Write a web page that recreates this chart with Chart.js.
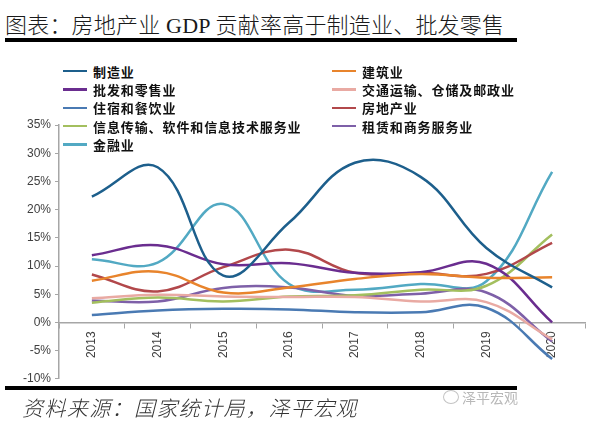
<!DOCTYPE html>
<html><head><meta charset="utf-8">
<script src="https://cdn.jsdelivr.net/npm/chart.js@4/dist/chart.umd.min.js"></script>
<style>
html,body{margin:0;padding:0;background:#fff;}
#wrap{position:relative;width:608px;height:424px;overflow:hidden;background:#fff;}
#title{position:absolute;left:5px;top:7px;font-family:"Liberation Serif","Noto Sans CJK SC",serif;font-size:22px;color:#1a1a1a;white-space:nowrap;font-weight:300;letter-spacing:0.2px;}
.rule{position:absolute;left:5px;width:512px;height:4px;background:#000;}
#foot{position:absolute;left:22px;top:392px;font-family:"Noto Sans CJK SC",sans-serif;font-style:italic;font-size:21px;letter-spacing:1.4px;color:#333;white-space:nowrap;font-weight:300;}
#wm{position:absolute;left:462px;top:387px;font-family:"Noto Sans CJK SC",sans-serif;font-size:14px;color:#b8b8b8;white-space:nowrap;}
#wmi{position:absolute;left:443px;top:390px;width:14px;height:12px;border:1.5px solid #c4c4c4;border-radius:50%;}
canvas{position:absolute;left:0;top:100px;}
.lg{position:absolute;height:18px;display:flex;align-items:center;font-family:"Noto Sans CJK SC",sans-serif;font-weight:bold;font-size:13px;letter-spacing:0.9px;color:#111;white-space:nowrap;}
.lg span.sw{display:inline-block;width:24px;height:2.5px;margin-right:6px;}
</style></head>
<body><div id="wrap">
<div id="title">图表：房地产业 GDP 贡献率高于制造业、批发零售</div>
<div class="rule" style="top:38px"></div>
<canvas id="c" width="600" height="290"></canvas>
<div id="legend"></div>
<div class="rule" style="top:386px"></div>
<div id="foot">资料来源：国家统计局，泽平宏观</div>
<div id="wmi"></div><div id="wm">泽平宏观</div>
</div>
<script>
const years = ['2013','2014','2015','2016','2017','2018','2019','2020'];
const seriesNames = ['制造业','建筑业','批发和零售业','交通运输、仓储及邮政业','住宿和餐饮业','房地产业','信息传输、软件和信息技术服务业','租赁和商务服务业','金融业'];
const manufacturing = [22.3, 27.5, 8.3, 17.7, 28.3, 25.8, 13.2, 6.2];
const construction  = [7.4, 9.0, 5.3, 6.2, 7.7, 8.6, 7.9, 8.0];
const wholesale     = [11.9, 13.7, 10.3, 10.5, 8.8, 8.9, 10.4, 0.0];
const transport     = [4.3, 4.9, 4.6, 4.5, 4.5, 3.7, 3.6, -3.0];
const hotel         = [1.3, 2.1, 2.4, 2.3, 1.8, 1.8, 2.6, -6.5];
const realEstate    = [8.5, 5.5, 9.8, 12.9, 8.8, 8.8, 8.6, 14.1];
const infoTech      = [3.5, 4.4, 3.7, 4.6, 4.8, 5.8, 6.5, 15.6];
const leasing       = [3.9, 3.7, 6.1, 6.2, 4.7, 5.1, 5.3, -3.4];
const finance       = [11.2, 10.6, 21.0, 6.8, 5.8, 6.8, 7.3, 26.7];
const yTicks = [35, 30, 25, 20, 15, 10, 5, 0, -5, -10];

const values = [manufacturing, construction, wholesale, transport, hotel, realEstate, infoTech, leasing, finance];
const colors = ['#1d5f8c','#e8842c','#6a2d8f','#e9aaa3','#4a7ab3','#b2484b','#a3bf5e','#7e60a8','#52a9c3'];

const datasets = seriesNames.map((n,i)=>({
  label:n, data:values[i], borderColor:colors[i], backgroundColor:colors[i],
  borderWidth:2.5, pointRadius:0, tension:0.4, fill:false
}));

const lg = document.getElementById('legend');
datasets.forEach((d,i)=>{
  const col = i%2, row = Math.floor(i/2);
  const el = document.createElement('div');
  el.className='lg';
  el.style.left = (col===0?63:332)+'px';
  el.style.top = (62+row*18.4)+'px';
  el.innerHTML = '<span class="sw" style="background:'+d.borderColor+'"></span>'+d.label;
  lg.appendChild(el);
});

new Chart(document.getElementById('c'), {
  type:'line',
  data:{labels:years, datasets},
  options:{
    responsive:false, animation:false,
    layout:{padding:{top:25,bottom:10,right:15,left:0}},
    plugins:{legend:{display:false}, tooltip:{enabled:false}},
    scales:{
      x:{
        position:{y:0}, offset:true,
        grid:{display:true, drawOnChartArea:false, drawTicks:true, tickLength:5, offset:true, color:'#a6a6a6'},
        border:{display:true, color:'#a6a6a6', width:1.5},
        ticks:{minRotation:90, maxRotation:90, padding:4, color:'#404040', font:{family:'Liberation Sans, Arial', size:12}}
      },
      y:{
        min:-10, max:35,
        afterFit(s){ s.width = 59; },
        afterBuildTicks(s){ s.ticks = yTicks.map(v=>({value:v})); },
        grid:{display:true, drawOnChartArea:false, drawTicks:true, tickLength:4, color:'#a6a6a6'},
        border:{display:true, color:'#a6a6a6', width:1.5},
        ticks:{padding:4, color:'#404040', font:{family:'Liberation Sans, Arial', size:12}, callback:v=>v+'%'}
      }
    }
  }
});
</script>
</body></html>
